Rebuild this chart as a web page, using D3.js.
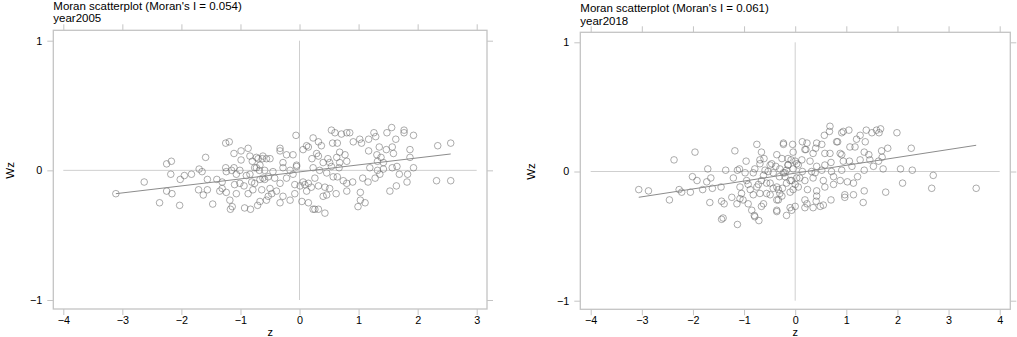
<!DOCTYPE html>
<html>
<head>
<meta charset="utf-8">
<script src="https://cdn.jsdelivr.net/npm/d3@7"></script>
<style>
  body { margin: 0; background: #fff; }
  svg text { font-family: "Liberation Sans", Arial, sans-serif; fill: #000; }
</style>
</head>
<body>
<div id="chart"></div>
<script>
// points: [z, Wz]
var pts2005 = [
  [-3.11,-0.18],[-2.63,-0.09],[-2.37,-0.25],[-2.25,0.05],[-2.17,0.07],[-2.18,-0.03],[-2.25,-0.16],[-2.16,-0.18],[-2.03,-0.27],[-2.02,-0.07],
  [-1.95,-0.04],[-1.83,-0.03],[-1.70,0.01],[-1.65,-0.01],[-1.71,-0.15],[-1.63,-0.19],[-1.56,-0.15],[-1.59,0.10],[-1.56,-0.07],[-1.47,-0.26],
  [-1.40,-0.07],[-1.31,-0.09],[-1.25,0.21],[-1.19,0.22],[-1.11,0.13],[-0.99,0.15],[-0.87,0.17],[-0.99,0.08],[-1.25,0.02],[-1.24,-0.01],
  [-1.15,0.00],[-1.11,0.02],[-1.07,-0.03],[-1.31,-0.14],[-1.24,-0.17],[-1.07,-0.18],[-1.18,-0.23],[-1.14,-0.28],[-1.17,-0.30],[-0.93,-0.29],
  [-0.83,-0.30],[-0.67,-0.24],[-1.01,-0.10],[-0.94,-0.12],[-0.90,-0.04],[-0.84,-0.03],[-0.80,0.07],[-0.73,0.10],[-0.63,0.09],[-0.56,0.09],
  [-0.76,0.02],[-0.68,0.00],[-0.81,-0.09],[-0.76,-0.10],[-0.67,-0.07],[-0.79,-0.15],[-0.87,-0.18],[-0.59,-0.07],[-0.53,-0.20],[-0.56,-0.23],
  [-0.06,0.27],[-0.33,0.17],[-0.33,0.15],[-0.22,0.12],[-0.11,0.12],[0.06,0.16],[0.12,0.19],[0.15,0.18],[0.23,0.25],[0.32,0.22],
  [0.37,0.19],[0.29,0.13],[0.21,0.09],[0.32,0.11],[0.40,0.06],[0.48,0.09],[0.54,0.31],[0.60,0.29],[0.71,0.28],[0.80,0.29],
  [0.56,0.21],[0.64,0.21],[0.68,0.14],[0.63,0.10],[0.77,0.12],[0.80,0.07],[0.67,0.02],[0.91,0.22],[1.02,0.24],[1.05,0.21],
  [1.17,0.24],[1.26,0.29],[1.29,0.26],[1.35,0.18],[1.17,0.15],[1.31,0.12],[1.38,0.10],[1.47,0.16],[1.48,0.29],[1.56,0.33],
  [1.63,0.24],[1.57,0.18],[1.59,0.13],[1.77,0.31],[1.77,0.29],[1.93,0.27],[1.87,0.16],[1.87,0.10],[1.42,0.06],[1.32,0.07],
  [1.19,0.02],[1.32,0.00],[1.42,0.01],[1.57,0.02],[1.65,0.03],[1.93,0.02],[1.69,-0.03],[1.83,-0.03],[1.82,-0.09],[1.64,-0.12],
  [1.53,-0.16],[1.28,-0.06],[1.36,-0.03],[1.16,-0.09],[1.07,-0.06],[1.03,-0.17],[1.03,-0.23],[1.11,-0.25],[0.99,-0.28],[0.90,-0.09],
  [0.80,-0.10],[0.80,-0.16],[0.62,-0.18],[0.74,-0.08],[0.64,-0.05],[0.57,-0.05],[0.43,-0.13],[0.40,-0.20],[0.32,-0.12],[0.20,-0.13],
  [0.15,-0.10],[0.06,-0.09],[0.04,-0.24],[0.15,-0.25],[0.23,-0.30],[0.32,-0.30],[0.43,-0.33],[2.34,0.19],[2.56,0.21],[2.32,-0.08],
  [2.56,-0.08],[-0.71,-0.27],[-0.16,-0.23],[-0.28,-0.20],[-0.08,-0.18],[-0.47,-0.18],[-0.62,-0.06],[-0.73,0.02],[-0.59,0.00],[-0.45,-0.01],
  [-0.28,0.02],[-0.16,0.00],[-0.05,0.03],[-0.05,0.04],[-0.11,-0.03],[-0.22,-0.06],[-0.33,-0.10],[-0.50,-0.14],[-0.08,-0.11],[0.01,-0.12],
  [-0.70,0.09],[-0.62,0.11],[-0.50,0.09],[0.23,0.02],[0.34,0.00],[0.46,-0.02],[0.54,0.03],[0.68,0.06],[0.51,0.06],
  [-0.33,-0.25],[-0.39,-0.16],[-0.28,0.06],[-0.84,0.11],[-0.67,0.04],[-1.01,0.00],[-1.10,-0.11],[-1.35,-0.16],[-0.64,-0.15],[-0.53,-0.05],[-0.42,-0.06],
  [0.85,0.29],[0.09,-0.11],[0.12,-0.16],[0.26,-0.06],[0.51,-0.14],[0.46,-0.19],[0.26,-0.30]
];

var pts2018 = [
  [-3.06,-0.14],[-2.87,-0.15],[-2.46,-0.22],[-2.37,0.09],[-2.27,-0.14],[-2.22,-0.16],[-2.05,-0.16],[-1.96,0.15],[-2.01,-0.04],[-1.92,-0.07],
  [-1.81,-0.14],[-1.71,0.02],[-1.73,-0.08],[-1.65,-0.05],[-1.62,-0.13],[-1.67,-0.24],[-1.45,-0.12],[-1.44,-0.23],[-1.39,-0.25],[-1.44,-0.37],
  [-1.36,0.01],[-1.24,-0.20],[-1.18,0.16],[-1.21,-0.05],[-1.13,0.01],[-1.09,0.02],[-1.14,-0.25],[-1.13,-0.41],[-1.05,-0.17],[-1.08,-0.21],
  [-0.96,0.08],[-0.95,-0.07],[-0.92,-0.10],[-0.88,-0.14],[-0.92,-0.25],[-0.85,-0.30],[-0.80,-0.34],[-0.71,-0.38],[-0.79,0.02],[-0.75,0.21],
  [-0.66,0.15],[-0.69,0.09],[-0.61,0.10],[-0.66,-0.27],[-0.56,-0.17],[-0.66,-0.07],[-0.72,-0.10],[-0.59,0.01],[-0.53,0.00],[-0.49,-0.09],
  [-0.43,-0.13],[-0.36,-0.30],[-0.46,0.06],[-0.38,0.04],[-0.31,-0.04],[-0.23,0.21],[-0.26,0.10],[-0.20,-0.01],[-0.17,-0.09],[-0.25,-0.13],
  [-0.17,-0.34],[-0.14,0.05],[-0.33,-0.14],
  [0.68,0.35],[0.57,0.28],[0.67,0.31],[0.91,0.30],[0.94,0.31],[1.05,0.32],[1.27,0.28],[1.20,0.25],[1.37,0.23],[1.39,0.32],
  [1.50,0.30],[1.59,0.32],[1.67,0.33],[1.64,0.30],[1.99,0.30],[1.81,0.18],[1.69,0.16],[1.70,0.11],[2.27,0.18],[1.72,0.02],
  [2.06,0.02],[2.29,0.01],[2.70,-0.03],[2.10,-0.09],[2.67,-0.13],[3.54,-0.13],[1.77,-0.16],[1.35,-0.15],[1.33,-0.24],[1.14,-0.18],
  [0.97,-0.20],[0.70,-0.22],[0.55,-0.26],[0.49,-0.27],[0.41,-0.23],[0.23,-0.25],[0.19,-0.28],[-0.07,-0.30],[-0.36,-0.31],[-0.23,0.22],
  [-0.05,0.21],[0.14,0.23],[0.23,0.22],[0.42,0.22],[0.52,0.21],[0.40,0.18],[0.21,0.17],[-0.04,0.15],[0.83,0.23],[1.07,0.19],
  [1.17,0.19],[0.58,0.14],[0.68,0.14],[0.91,0.13],[1.06,0.08],[1.27,0.09],[1.44,0.13],[1.35,0.15],[0.94,0.08],[0.70,0.07],
  [0.58,0.05],[0.42,0.04],[0.29,0.08],[0.13,0.09],[-0.14,0.10],[0.00,0.08],[-0.36,0.13],[0.91,0.01],[0.71,0.00],[0.52,0.01],
  [0.32,0.00],[0.14,0.00],[1.35,0.01],[1.11,0.04],[1.22,-0.04],[1.02,-0.08],[0.88,-0.07],[0.75,-0.10],[0.58,-0.12],[0.42,-0.15],
  [0.24,-0.14],[0.06,-0.12],[-0.10,-0.16],[-0.26,-0.19],[-0.36,-0.22],[-0.20,-0.04],[-0.10,-0.07],[0.03,-0.05],[0.19,-0.07],[0.35,-0.05],
  [0.55,-0.07],[-0.14,0.05],[-0.30,0.02],[-0.43,-0.01],[-0.17,0.01],[-0.04,0.02],[0.06,0.05],[-0.08,0.09],
  [-0.69,0.06],[-0.49,0.05],[-0.23,-0.01],[-0.62,-0.03],[-0.82,-0.01],[-0.98,-0.01],[-1.08,-0.12],[-0.75,-0.12],[-0.56,-0.09],[-0.36,-0.12],
  [-0.04,-0.14],[-0.07,-0.07],[-0.30,-0.17],[-0.49,-0.18],[-0.69,-0.17],[-0.82,-0.18],[-1.02,-0.22],[-0.62,-0.25],[-0.33,-0.22],[-0.10,-0.28],
  [-1.41,-0.36],[-0.79,-0.35],
  [0.81,0.23],[0.88,0.14],[0.35,0.14],[0.19,0.17],[0.03,0.06],[0.09,-0.05],[0.00,-0.10],[0.19,-0.22],[0.00,-0.27],[0.42,-0.19],
  [0.35,-0.28],[0.97,-0.18],[1.14,-0.09],[0.75,-0.04],[1.53,0.04],[1.63,0.08],[1.46,0.09],[0.39,-0.01]
];

var titles = ["Moran scatterplot (Moran's I = 0.054)", "Moran scatterplot (Moran's I = 0.061)"];
var subtitles = ["year2005", "year2018"];
var xTicks = [[-4, -3, -2, -1, 0, 1, 2, 3], [-4, -3, -2, -1, 0, 1, 2, 3, 4]];
var yTicks = [-1, 0, 1];
var moranI = [0.054, 0.061];
var intercepts = [-0.012, -0.013];

// layout of the two panels (pixels)
var panels = [
  { pts: pts2005, xr: [63.3, 476.7], yr: [300, 40.7], frame: [53.3, 30.3, 487, 309], titleY: 9.5, subY: 21.5, labX: 14 },
  { pts: pts2018, xr: [590.7, 999.7], yr: [300.7, 42.3], frame: [580.3, 32.3, 1010.3, 309.3], titleY: 12, subY: 24.5, labX: 535 }
];

var svg = d3.select("#chart").append("svg")
  .attr("width", 1017)
  .attr("height", 337);

var gray = "#c4c4c4";

panels.forEach(function (p, k) {
  var ticks = xTicks[k];
  var x = d3.scaleLinear().domain([ticks[0], ticks[ticks.length - 1]]).range(p.xr);
  var y = d3.scaleLinear().domain([-1, 1]).range(p.yr);
  var f = p.frame;
  var g = svg.append("g");

  // frame
  g.append("rect")
    .attr("x", f[0]).attr("y", f[1])
    .attr("width", f[2] - f[0]).attr("height", f[3] - f[1])
    .attr("fill", "none").attr("stroke", gray).attr("stroke-width", 1.3);

  // ticks on all four sides, labels only left and bottom
  var tickLen = 6;
  g.append("g").attr("transform", "translate(0," + f[3] + ")")
    .call(d3.axisBottom(x).tickValues(ticks).tickSize(tickLen).tickPadding(1.5).tickFormat(d3.format("d")));
  g.append("g").attr("transform", "translate(0," + f[1] + ")")
    .call(d3.axisTop(x).tickValues(ticks).tickSize(tickLen).tickFormat(""));
  g.append("g").attr("transform", "translate(" + f[0] + ",0)")
    .call(d3.axisLeft(y).tickValues(yTicks).tickSize(tickLen).tickPadding(5).tickFormat(d3.format("d")));
  g.append("g").attr("transform", "translate(" + f[2] + ",0)")
    .call(d3.axisRight(y).tickValues(yTicks).tickSize(tickLen).tickFormat(""));

  g.selectAll(".domain").remove();
  g.selectAll(".tick line").attr("stroke", gray).attr("stroke-width", 1);
  g.selectAll(".tick text")
    .style("font-family", "'Liberation Sans', Arial, sans-serif")
    .style("font-size", "10.8px").attr("fill", "#000");

  // reference lines at z = 0 and Wz = 0
  g.append("line")
    .attr("x1", x(ticks[0])).attr("x2", x(ticks[ticks.length - 1]))
    .attr("y1", y(0)).attr("y2", y(0))
    .attr("stroke", "#cfcfcf").attr("stroke-width", 1);
  g.append("line")
    .attr("x1", x(0)).attr("x2", x(0))
    .attr("y1", y(1)).attr("y2", y(-1))
    .attr("stroke", "#cfcfcf").attr("stroke-width", 1);

  // points
  g.append("g").selectAll("circle")
    .data(p.pts)
    .enter().append("circle")
    .attr("cx", function (d) { return x(d[0]); })
    .attr("cy", function (d) { return y(d[1]); })
    .attr("r", 3.3)
    .attr("fill", "none")
    .attr("stroke", "#6a6a6a")
    .attr("stroke-opacity", 0.7)
    .attr("stroke-width", 0.8);

  // fitted line
  var ext = d3.extent(p.pts, function (d) { return d[0]; });
  g.append("line")
    .attr("x1", x(ext[0])).attr("y1", y(intercepts[k] + moranI[k] * ext[0]))
    .attr("x2", x(ext[1])).attr("y2", y(intercepts[k] + moranI[k] * ext[1]))
    .attr("stroke", "#8c8c8c").attr("stroke-width", 1);

  // titles
  g.append("text").attr("x", f[0]).attr("y", p.titleY)
    .style("font-size", "11.5px").text(titles[k]);
  g.append("text").attr("x", f[0]).attr("y", p.subY)
    .style("font-size", "11.5px").text(subtitles[k]);

  // axis titles
  g.append("text")
    .attr("x", (f[0] + f[2]) / 2).attr("y", 335.5)
    .attr("text-anchor", "middle")
    .style("font-size", "11px").text("z");
  g.append("text")
    .attr("transform", "translate(" + p.labX + "," + y(0) + ")rotate(-90)")
    .attr("text-anchor", "middle")
    .style("font-size", "11.5px").text("Wz");
});
</script>
</body>
</html>
